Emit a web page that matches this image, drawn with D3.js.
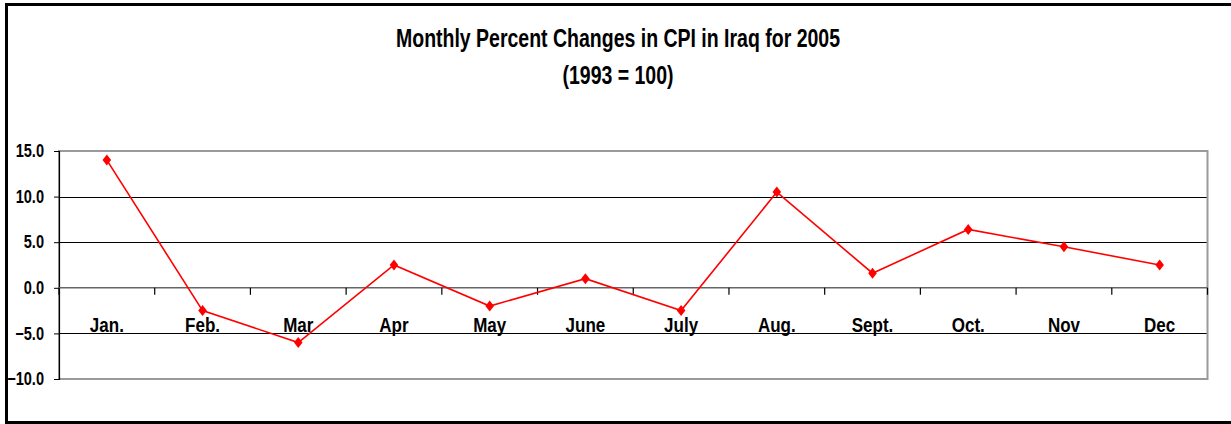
<!DOCTYPE html>
<html>
<head>
<meta charset="utf-8">
<script src="https://cdn.jsdelivr.net/npm/d3@7"></script>
<style>
  html, body { margin: 0; padding: 0; background: #fff; }
  svg { display: block; }
  text { font-family: "Liberation Sans Narrow", "Arial Narrow", "Liberation Sans", Arial, sans-serif; font-weight: bold; fill: #000; }
</style>
</head>
<body>
<svg id="chart" width="1231" height="424"></svg>
<script>
const months = ["Jan.", "Feb.", "Mar", "Apr", "May", "June", "July", "Aug.", "Sept.", "Oct.", "Nov", "Dec"];
const cpiChange = [14.0, -2.5, -6.0, 2.5, -2.0, 1.0, -2.5, 10.5, 1.6, 6.4, 4.5, 2.5];
const yTicks = [-10, -5, 0, 5, 10, 15];
const titleLines = ["Monthly Percent Changes in CPI in Iraq for 2005", "(1993 = 100)"];

const svg = d3.select("#chart");
const plot = { left: 59, right: 1207.5, top: 151, bottom: 379 };

// condense a text horizontally around its anchor point
function narrow(sel, sx = 0.81) {
  sel.each(function () {
    const t = d3.select(this);
    const tx = +t.attr("x") || 0, ty = +t.attr("y") || 0;
    t.attr("x", 0).attr("y", 0).attr("transform", `translate(${tx},${ty}) scale(${sx},1)`);
  });
}

const x = d3.scaleBand().domain(months).range([plot.left, plot.right]);
const y = d3.scaleLinear().domain([-10, 15]).range([plot.bottom, plot.top]);

// outer frame (left, top, bottom)
svg.append("rect").attr("x", 5).attr("y", 3).attr("width", 3).attr("height", 421).attr("fill", "#000");
svg.append("rect").attr("x", 5).attr("y", 3).attr("width", 1226).attr("height", 3).attr("fill", "#000");
svg.append("rect").attr("x", 5).attr("y", 421).attr("width", 1226).attr("height", 3).attr("fill", "#000");

// title
svg.append("g").selectAll("text").data(titleLines).join("text")
  .attr("x", 618).attr("y", (d, i) => i === 0 ? 46.5 : 84).attr("text-anchor", "middle")
  .style("font-size", "25px").text(d => d).call(narrow, 0.78);

// gridlines
svg.append("g").selectAll("line").data(yTicks.filter(d => d !== 0 && d !== -10 && d !== 15)).join("line")
  .attr("x1", plot.left).attr("x2", plot.right)
  .attr("y1", d => Math.round(y(d)) + 0.5).attr("y2", d => Math.round(y(d)) + 0.5)
  .attr("stroke", "#000").attr("stroke-width", 1);

// plot border (gray)
svg.append("rect").attr("x", plot.left).attr("y", plot.top)
  .attr("width", plot.right - plot.left).attr("height", plot.bottom - plot.top)
  .attr("fill", "none").attr("stroke", "#9a9a9a").attr("stroke-width", 2);

// y axis
const yAxis = d3.axisLeft(y).tickValues(yTicks).tickFormat(d3.format(".1f")).tickSize(5).tickPadding(10);
const gy = svg.append("g").attr("transform", `translate(${plot.left},0)`).call(yAxis);
gy.attr("font-family", null).attr("font-size", null);
gy.select(".domain").attr("stroke", "#000").attr("stroke-width", 1.2);
gy.selectAll(".tick line").attr("stroke", "#000");
gy.selectAll(".tick text").style("font-size", "18px").attr("fill", "#000").call(narrow, 0.81);

// x axis at y=0
const gx = svg.append("g").attr("transform", `translate(0,${y(0)})`);
gx.append("line").attr("x1", plot.left).attr("x2", plot.right).attr("y1", 0).attr("y2", 0)
  .attr("stroke", "#666").attr("stroke-width", 1.6);
const boundaries = months.map(m => x(m)).concat([plot.right]);
gx.selectAll("line.tk").data(boundaries).join("line").attr("class", "tk")
  .attr("x1", d => d).attr("x2", d => d).attr("y1", 0).attr("y2", 7)
  .attr("stroke", "#000").attr("stroke-width", 1.2);

// month labels
svg.append("g").selectAll("text").data(months).join("text")
  .attr("x", d => x(d) + x.bandwidth() / 2).attr("y", 332)
  .attr("text-anchor", "middle").style("font-size", "21px").text(d => d).call(narrow, 0.81);

// line
const pts = months.map((m, i) => [x(m) + x.bandwidth() / 2, y(cpiChange[i])]);
svg.append("path").datum(pts).attr("d", d3.line()).attr("fill", "none")
  .attr("stroke", "#ff0000").attr("stroke-width", 1.6);

// diamonds
svg.append("g").selectAll("path").data(pts).join("path")
  .attr("transform", d => `translate(${d[0]},${d[1]})`)
  .attr("d", "M0,-5.5L4.3,0L0,5.5L-4.3,0Z").attr("fill", "#ff0000");
</script>
</body>
</html>
